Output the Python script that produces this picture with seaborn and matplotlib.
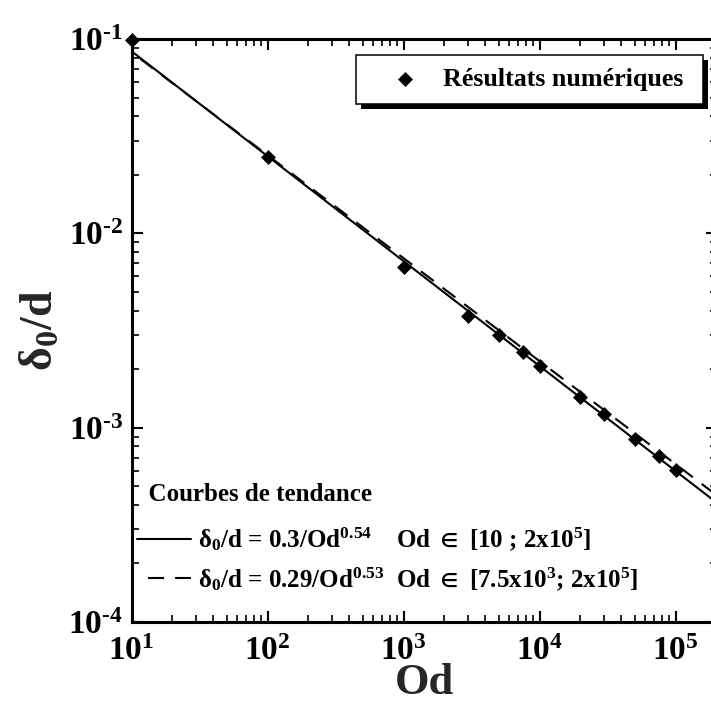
import matplotlib
matplotlib.use("Agg")
import numpy as np
import pandas as pd
import matplotlib.pyplot as plt
import matplotlib.patheffects as pe
from matplotlib.ticker import LogLocator, FuncFormatter, NullFormatter
import seaborn as sns

# Numerical results: boundary-layer thickness ratio vs Od
od_values = [10, 100, 1000, 3000, 5000, 7500, 10000, 20000, 30000, 50000, 75000, 100000]
delta_values = [0.099, 0.0247, 0.00671, 0.00376, 0.00300, 0.00245, 0.00208,
                0.00144, 0.001175, 0.000874, 0.000715, 0.000606]
points_label = "Résultats numériques"

# Trend curves: delta0/d = coef / Od**exponent
fit_coef = [0.3, 0.29]
fit_exp = [0.54, 0.53]
fit_labels = [
    r"$\delta_0$/d = 0.3/Od$^{0.54}$    Od $\in$ [10 ; 2x10$^5$]",
    r"$\delta_0$/d = 0.29/Od$^{0.53}$  Od $\in$ [7.5x10$^3$; 2x10$^5$]",
]
trend_title = "Courbes de tendance"
od_range = [10, 2e5]
delta_range = [1e-4, 1e-1]

sns.set_theme(style="ticks")
plt.rcParams.update({
    "font.family": ["Liberation Serif", "DejaVu Serif"],
    "font.weight": "bold",
    "mathtext.fontset": "custom",
    "mathtext.rm": "Liberation Serif:bold",
    "mathtext.it": "Liberation Serif:bold",
    "mathtext.bf": "Liberation Serif:bold",
    "mathtext.sf": "Liberation Serif:bold",
    "mathtext.default": "rm",
    "mathtext.fallback": "stix",
    "axes.edgecolor": "black",
    "text.color": "black",
    "xtick.color": "black",
    "ytick.color": "black",
})

W, H = 711, 706
fig = plt.figure(figsize=(W / 100, H / 100), dpi=100)
ax = fig.add_axes([131.5 / W, 84 / H, 585 / W, 583 / H])
ax.set_xscale("log")
ax.set_yscale("log")

# Trend curves
od_grid = np.logspace(np.log10(od_range[0]), np.log10(od_range[1]), 300)
line_styles = ["-", (7.7, (7.7, 5.3))]
for coef, expo, lab, ls in zip(fit_coef, fit_exp, fit_labels, line_styles):
    sns.lineplot(x=od_grid, y=coef / od_grid ** expo, color="black", linewidth=1.5,
                 linestyle=ls, estimator=None, label=lab, legend=False, ax=ax)

# Numerical points
points = pd.DataFrame({"Od": od_values, "delta": delta_values})
sns.scatterplot(data=points, x="Od", y="delta", marker="D", s=58, color="black",
                edgecolor="black", linewidth=0, clip_on=False, zorder=5,
                label=points_label, legend=False, ax=ax)

ax.set_xlim(*od_range)
ax.set_ylim(*delta_range)

# Axes styling
for sp in ax.spines.values():
    sp.set_linewidth(2.2)
    sp.set_visible(True)


def pow_label(v, pos):
    e = int(round(np.log10(v)))
    exp_txt = str(e).replace("-", "\u2010")
    return r"$10^{%s}$" % exp_txt


pow_fmt = FuncFormatter(pow_label)
for axis in (ax.xaxis, ax.yaxis):
    axis.set_major_locator(LogLocator(base=10, numticks=10))
    axis.set_minor_locator(LogLocator(base=10, subs=np.arange(2, 10), numticks=20))
    axis.set_major_formatter(pow_fmt)
    axis.set_minor_formatter(NullFormatter())

ax.tick_params(which="both", direction="in", top=True, right=True, colors="black")
ax.tick_params(which="major", length=8, width=1.5, labelsize=24, pad=6)
ax.tick_params(which="minor", length=5, width=1.2)
ax.tick_params(axis="x", which="major", pad=10)

ax.set_xlabel("Od", fontsize=32, fontweight="bold", labelpad=-3)
ax.set_ylabel(r"$\delta_0$/d", fontsize=33, fontweight="bold", labelpad=4)

# Legend for the numerical points
pts_handle = ax.collections[0]
x0 = (356 - 131.5) / 585
x1 = (703 - 131.5) / 585
ytop = (622 - 55) / 583
leg1 = ax.legend([pts_handle], [points_label], loc="upper left",
                 bbox_to_anchor=(x0, ytop - 0.2, x1 - x0, 0.2), mode="expand",
                 borderaxespad=0, borderpad=0.5, handlelength=2.76, handletextpad=0.08,
                 scatterpoints=1, fancybox=False, frameon=True,
                 prop={"size": 18.7, "weight": "bold"})
frame = leg1.get_frame()
frame.set_edgecolor("black")
frame.set_linewidth(1.1)
frame.set_facecolor("white")
frame.set_alpha(1)
frame.set_path_effects([pe.SimplePatchShadow(offset=(3.5, -3.5), shadow_rgbFace="black", alpha=1.0),
                        pe.Normal()])
ax.add_artist(leg1)

# Legend for the trend curves
line_handles = ax.get_lines()[:2]
leg2 = ax.legend(line_handles, fit_labels, title="  " + trend_title, loc="lower left",
                 bbox_to_anchor=(0.0, 0.042), borderaxespad=0, borderpad=0.2,
                 handlelength=2.16, handletextpad=0.32, labelspacing=0.46,
                 frameon=False, alignment="left",
                 prop={"size": 18, "weight": "bold"},
                 title_fontproperties={"size": 18, "weight": "bold"})
# extra gap between the title and the entries
leg2._legend_box.sep = 0.46 * 18 + 6

fig.savefig("out.png", dpi=100)
